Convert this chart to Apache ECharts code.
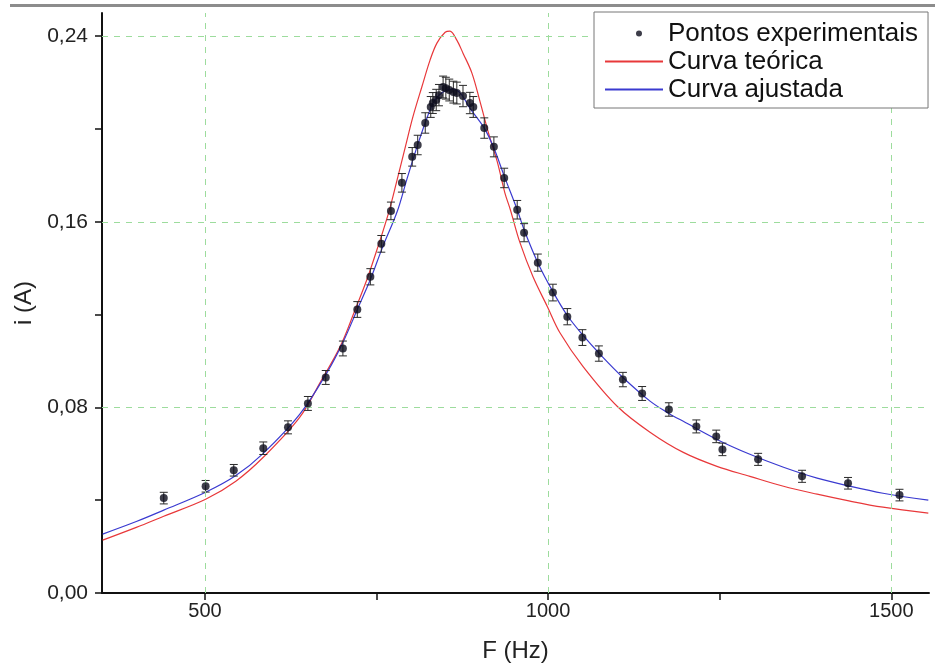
<!DOCTYPE html>
<html>
<head>
<meta charset="utf-8">
<script src="https://cdn.jsdelivr.net/npm/echarts@6/dist/echarts.min.js"></script>
<style>
  html, body { margin: 0; padding: 0; background: #fff; }
  #chart { width: 935px; height: 668px; }
</style>
</head>
<body>
<div id="chart"></div>
<script>
// pontos experimentais (F em Hz, i em A) e barras de erro
var freq = [440, 501, 542, 585, 621, 650, 676, 701, 722, 741,
            757, 771, 787, 802, 810, 821, 829, 832, 837, 841,
            847, 851, 856, 862, 867, 876, 886, 891, 907, 921,
            936, 955, 965, 985, 1007, 1028, 1050, 1074, 1109, 1137,
            1176, 1216, 1245, 1254, 1306, 1370, 1437, 1512];
var current = [0.0409, 0.0460, 0.0529, 0.0624, 0.0714, 0.0817, 0.0929, 0.1054, 0.1222, 0.1363,
               0.1505, 0.1647, 0.1768, 0.1880, 0.1931, 0.2026, 0.2095, 0.2112, 0.2125, 0.2146,
               0.2181, 0.2176, 0.2168, 0.2159, 0.2155, 0.2142, 0.2112, 0.2095, 0.2004, 0.1923,
               0.1789, 0.1652, 0.1553, 0.1424, 0.1295, 0.1191, 0.1101, 0.1032, 0.0920, 0.0860,
               0.0791, 0.0718, 0.0675, 0.0619, 0.0576, 0.0503, 0.0473, 0.0422];
var errors = [0.0025, 0.0025, 0.0025, 0.0027, 0.0028, 0.0030, 0.0030, 0.0032, 0.0034, 0.0035,
              0.0036, 0.0038, 0.0040, 0.0040, 0.0042, 0.0044, 0.0045, 0.0045, 0.0046, 0.0046,
              0.0047, 0.0047, 0.0047, 0.0047, 0.0047, 0.0046, 0.0046, 0.0045, 0.0044, 0.0043,
              0.0042, 0.0040, 0.0039, 0.0037, 0.0036, 0.0035, 0.0034, 0.0033, 0.0031, 0.0030,
              0.0029, 0.0028, 0.0027, 0.0027, 0.0026, 0.0026, 0.0025, 0.0025];

// curva teórica
var theoryF = [351, 400, 440, 501, 545, 585, 638, 668, 697, 719, 736, 752,
               768, 780, 792, 803, 816, 828, 838, 850, 857, 867,
               876, 889, 901, 914, 926, 937, 945, 959, 978, 999,
               1017, 1051, 1101, 1149, 1197, 1246, 1294, 1343, 1392, 1440,
               1488, 1554];
var theoryI = [0.0228, 0.0283, 0.0331, 0.0404, 0.0482, 0.0585, 0.0757, 0.0908, 0.1062, 0.1222, 0.1351, 0.1492,
               0.1643, 0.1781, 0.1923, 0.2052, 0.2181, 0.2297, 0.2370, 0.2417, 0.2422, 0.2383,
               0.2327, 0.2241, 0.2116, 0.1974, 0.1858, 0.1725, 0.1652, 0.1510, 0.1363, 0.1234,
               0.1123, 0.0976, 0.0804, 0.0692, 0.0606, 0.0546, 0.0503, 0.0460, 0.0426, 0.0396,
               0.0370, 0.0344];

// curva ajustada
var fitF = [351, 400, 440, 501, 545, 585, 638, 678, 701, 722, 741, 759,
            780, 794, 809, 824, 835, 847, 860, 872, 886, 907,
            921, 936, 955, 965, 985, 1007, 1028, 1051, 1076, 1109,
            1149, 1176, 1197, 1246, 1294, 1343, 1392, 1440, 1488, 1554];
var fitI = [0.0254, 0.0308, 0.0357, 0.0434, 0.0506, 0.0602, 0.0770, 0.0951, 0.1080, 0.1222, 0.1351, 0.1492,
            0.1643, 0.1781, 0.1923, 0.2052, 0.2125, 0.2159, 0.2172, 0.2155, 0.2090, 0.2004,
            0.1918, 0.1798, 0.1652, 0.1566, 0.1424, 0.1299, 0.1196, 0.1110, 0.1028, 0.0929,
            0.0826, 0.0774, 0.0740, 0.0662, 0.0598, 0.0542, 0.0495, 0.0460, 0.0430, 0.0400];

var xTicks = [500, 750, 1000, 1250, 1500];
var xLabels = [500, 1000, 1500];
var yTicks = [0, 0.04, 0.08, 0.12, 0.16, 0.20, 0.24];
var yLabels = [0, 0.08, 0.16, 0.24];

function pairs(a, b) {
  return a.map(function (v, k) { return [v, b[k]]; });
}

var chart = echarts.init(document.getElementById('chart'));

var font = 'Liberation Sans, Arial, sans-serif';
var gridStyle = { color: '#9ddc9d', type: [6, 6], width: 1 };

var option = {
  backgroundColor: '#fff',
  animation: false,
  textStyle: { fontFamily: font },
  graphic: [{
    type: 'rect',
    shape: { x: 10, y: 4, width: 925, height: 3 },
    style: { fill: '#8c8c8c' },
    silent: true
  }],
  grid: { left: 102, right: 6, top: 13, bottom: 74 },
  legend: {
    orient: 'vertical',
    left: 594,
    top: 12,
    z: 20,
    padding: [8, 10, 5, 10],
    itemGap: 1,
    itemWidth: 58,
    itemHeight: 14,
    backgroundColor: '#fff',
    borderColor: '#777',
    borderWidth: 1,
    borderRadius: 0,
    textStyle: { fontSize: 26, lineHeight: 27, color: '#111', fontFamily: font },
    data: [
      { name: 'Pontos experimentais', icon: 'path://M0,0 M58,14 M31,7 a3,3 0 1,0 6,0 a3,3 0 1,0 -6,0 Z' },
      { name: 'Curva teórica', itemStyle: { opacity: 0 } },
      { name: 'Curva ajustada', itemStyle: { opacity: 0 } }
    ]
  },
  xAxis: {
    type: 'value',
    min: 350,
    max: 1555,
    name: 'F (Hz)',
    nameLocation: 'middle',
    nameGap: 46,
    nameTextStyle: { fontSize: 24, color: '#222' },
    axisLine: { lineStyle: { color: '#111', width: 2 } },
    axisTick: { customValues: xTicks, length: 7, lineStyle: { color: '#111', width: 1.5 } },
    axisLabel: {
      customValues: xLabels, fontSize: 20, color: '#222', margin: 8,
      formatter: function (v) { return String(v); }
    },
    splitLine: { show: false }
  },
  yAxis: {
    type: 'value',
    min: 0,
    max: 0.25,
    name: 'i (A)',
    nameLocation: 'middle',
    nameRotate: 90,
    nameGap: 54,
    nameTextStyle: { fontSize: 24, color: '#222' },
    axisLine: { show: true, lineStyle: { color: '#111', width: 2 } },
    axisTick: { show: true, customValues: yTicks, length: 7, lineStyle: { color: '#111', width: 1.5 } },
    axisLabel: {
      customValues: yLabels, fontSize: 21, color: '#222', margin: 14,
      formatter: function (v) { return v.toFixed(2).replace('.', ','); }
    },
    splitLine: { show: false }
  },
  series: [
    {
      // linhas de grade
      type: 'scatter',
      data: [],
      silent: true,
      z: 1,
      markLine: {
        silent: true,
        symbol: ['none', 'none'],
        label: { show: false },
        lineStyle: gridStyle,
        data: [
          { xAxis: 500 }, { xAxis: 1000 }, { xAxis: 1500 },
          { yAxis: 0.08 }, { yAxis: 0.16 }, { yAxis: 0.24 }
        ]
      }
    },
    {
      name: 'Curva teórica',
      type: 'line',
      data: pairs(theoryF, theoryI),
      smooth: 0.35,
      symbol: 'none',
      z: 2,
      lineStyle: { color: '#e8383a', width: 1.2 },
      itemStyle: { color: '#e8383a' }
    },
    {
      name: 'Curva ajustada',
      type: 'line',
      data: pairs(fitF, fitI),
      smooth: 0.35,
      symbol: 'none',
      z: 3,
      lineStyle: { color: '#3a3ad0', width: 1.2 },
      itemStyle: { color: '#3a3ad0' }
    },
    {
      // barras de erro
      type: 'custom',
      z: 4,
      silent: true,
      data: freq.map(function (f, k) { return [f, current[k] - errors[k], current[k] + errors[k]]; }),
      renderItem: function (params, api) {
        var lo = api.coord([api.value(0), api.value(1)]);
        var hi = api.coord([api.value(0), api.value(2)]);
        var w = 4;
        var st = { stroke: '#2a2a2a', lineWidth: 1 };
        return {
          type: 'group',
          children: [
            { type: 'line', shape: { x1: lo[0], y1: lo[1], x2: hi[0], y2: hi[1] }, style: st },
            { type: 'line', shape: { x1: lo[0] - w, y1: lo[1], x2: lo[0] + w, y2: lo[1] }, style: st },
            { type: 'line', shape: { x1: hi[0] - w, y1: hi[1], x2: hi[0] + w, y2: hi[1] }, style: st }
          ]
        };
      }
    },
    {
      name: 'Pontos experimentais',
      type: 'scatter',
      data: pairs(freq, current),
      symbol: 'circle',
      symbolSize: 8,
      z: 5,
      itemStyle: { color: '#0c0c1c' }
    }
  ]
};

chart.setOption(option);
</script>
</body>
</html>
